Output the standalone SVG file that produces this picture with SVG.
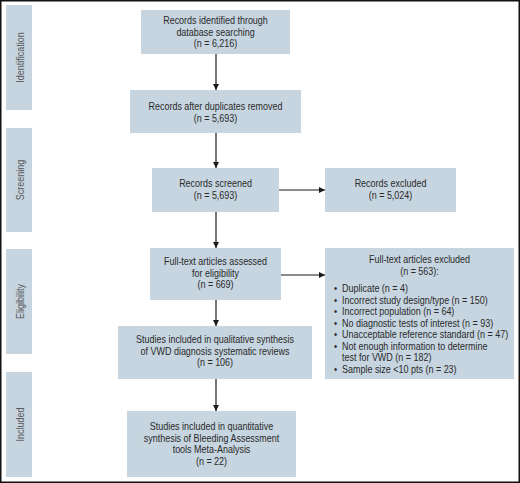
<svg xmlns="http://www.w3.org/2000/svg" width="520" height="483" viewBox="0 0 520 483">
<defs>
<style>
.box{fill:#c6d5e0;}
.side{fill:#c6d5e0;}
text{font-family:"Liberation Sans",Arial,sans-serif;font-size:10.2px;fill:#2a2a2a;}
.c{text-anchor:middle;}
.sl{fill:#5a5a5a;text-anchor:middle;}
.conn{stroke:#1a1a1a;stroke-width:1.2;fill:none;marker-end:url(#ah);}
</style>
<marker id="ah" markerWidth="6" markerHeight="6" refX="6" refY="3" orient="auto" markerUnits="userSpaceOnUse">
<path d="M0,0 L6,3 L0,6 Z" fill="#1a1a1a"/>
</marker>
</defs>
<rect width="520" height="483" fill="#fff"/>
<rect x="0.75" y="0.75" width="518.5" height="481.5" fill="none" stroke="#111" stroke-width="1.5"/>

<g id="side-identification"><rect class="side" x="6" y="5" width="26" height="105"/><text class="sl" transform="translate(23.5,57.5) rotate(-90) scale(0.88,1)">Identification</text></g>
<g id="side-screening"><rect class="side" x="6" y="128" width="26" height="104"/><text class="sl" transform="translate(23.5,180) rotate(-90) scale(0.88,1)">Screening</text></g>
<g id="side-eligibility"><rect class="side" x="6" y="249" width="26" height="105"/><text class="sl" transform="translate(23.5,301.5) rotate(-90) scale(0.88,1)">Eligibility</text></g>
<g id="side-included"><rect class="side" x="6" y="372" width="26" height="105"/><text class="sl" transform="translate(23.5,424.5) rotate(-90) scale(0.88,1)">Included</text></g>

<g id="n1"><rect class="box" x="141" y="10" width="149" height="44"/>
<text class="c" transform="translate(215.5,24) scale(0.88,1)">Records identified through</text>
<text class="c" transform="translate(215.5,35.5) scale(0.88,1)">database searching</text>
<text class="c" transform="translate(215.5,47) scale(0.88,1)">(n = 6,216)</text></g>

<g id="n2"><rect class="box" x="130" y="90" width="171" height="43"/>
<text class="c" transform="translate(215.5,110) scale(0.88,1)">Records after duplicates removed</text>
<text class="c" transform="translate(215.5,121.5) scale(0.88,1)">(n = 5,693)</text></g>

<g id="n3"><rect class="box" x="152" y="168" width="127" height="44"/>
<text class="c" transform="translate(215.5,187) scale(0.88,1)">Records screened</text>
<text class="c" transform="translate(215.5,198.5) scale(0.88,1)">(n = 5,693)</text></g>

<g id="n3x"><rect class="box" x="325" y="168" width="131" height="44"/>
<text class="c" transform="translate(390.5,187) scale(0.88,1)">Records excluded</text>
<text class="c" transform="translate(390.5,198.5) scale(0.88,1)">(n = 5,024)</text></g>

<g id="n4"><rect class="box" x="150" y="248" width="131" height="52"/>
<text class="c" transform="translate(215.5,265) scale(0.88,1)">Full-text articles assessed</text>
<text class="c" transform="translate(215.5,276.5) scale(0.88,1)">for eligibility</text>
<text class="c" transform="translate(215.5,288) scale(0.88,1)">(n = 669)</text></g>

<g id="n4x"><rect class="box" x="325" y="248" width="189" height="131"/>
<text class="c" transform="translate(419.5,263) scale(0.88,1)">Full-text articles excluded</text>
<text class="c" transform="translate(419.5,274.5) scale(0.88,1)">(n = 563):</text>
<text transform="translate(334,292) scale(0.88,1)">•</text><text transform="translate(342,292) scale(0.88,1)">Duplicate (n = 4)</text>
<text transform="translate(334,303.5) scale(0.88,1)">•</text><text transform="translate(342,303.5) scale(0.88,1)">Incorrect study design/type (n = 150)</text>
<text transform="translate(334,315) scale(0.88,1)">•</text><text transform="translate(342,315) scale(0.88,1)">Incorrect population (n = 64)</text>
<text transform="translate(334,326.5) scale(0.88,1)">•</text><text transform="translate(342,326.5) scale(0.88,1)">No diagnostic tests of interest (n = 93)</text>
<text transform="translate(334,338) scale(0.88,1)">•</text><text transform="translate(342,338) scale(0.88,1)">Unacceptable reference standard (n = 47)</text>
<text transform="translate(334,349.5) scale(0.88,1)">•</text><text transform="translate(342,349.5) scale(0.88,1)">Not enough information to determine</text>
<text transform="translate(342,361) scale(0.88,1)">test for VWD (n = 182)</text>
<text transform="translate(334,372.5) scale(0.88,1)">•</text><text transform="translate(342,372.5) scale(0.88,1)">Sample size &lt;10 pts (n = 23)</text></g>

<g id="n5"><rect class="box" x="118" y="326" width="194" height="53"/>
<text class="c" transform="translate(215,343) scale(0.88,1)">Studies included in qualitative synthesis</text>
<text class="c" transform="translate(215,354.5) scale(0.88,1)">of VWD diagnosis systematic reviews</text>
<text class="c" transform="translate(215,366) scale(0.88,1)">(n = 106)</text></g>

<g id="n6"><rect class="box" x="127" y="411" width="169" height="66"/>
<text class="c" transform="translate(211.5,430) scale(0.88,1)">Studies included in quantitative</text>
<text class="c" transform="translate(211.5,441.5) scale(0.88,1)">synthesis of Bleeding Assessment</text>
<text class="c" transform="translate(211.5,453) scale(0.88,1)">tools Meta-Analysis</text>
<text class="c" transform="translate(211.5,464.5) scale(0.88,1)">(n = 22)</text></g>

<g id="connectors">
<line class="conn" x1="216" y1="54" x2="216" y2="90"/>
<line class="conn" x1="216" y1="133" x2="216" y2="168"/>
<line class="conn" x1="216" y1="212" x2="216" y2="248"/>
<line class="conn" x1="216" y1="300" x2="216" y2="326"/>
<line class="conn" x1="216" y1="379" x2="216" y2="411"/>
<line class="conn" x1="279" y1="190" x2="325" y2="190"/>
<line class="conn" x1="281" y1="275" x2="325" y2="275"/>
</g>
</svg>
